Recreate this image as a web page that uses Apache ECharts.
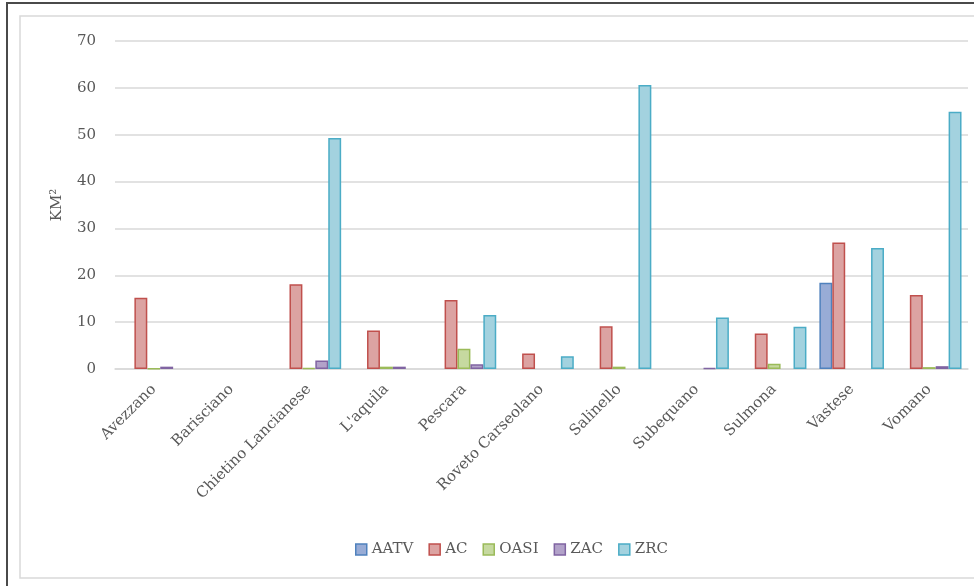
<!DOCTYPE html>
<html>
<head>
<meta charset="utf-8">
<script src="https://cdn.jsdelivr.net/npm/echarts@6/dist/echarts.min.js"></script>
<style>html,body{margin:0;padding:0;background:#fff}#c{width:974px;height:586px}</style>
</head>
<body>
<div id="c"></div>
<script>
const categories = ["Avezzano","Barisciano","Chietino Lancianese","L'aquila","Pescara","Roveto Carseolano","Salinello","Subequano","Sulmona","Vastese","Vomano"];
const seriesNames = ["AATV","AC","OASI","ZAC","ZRC"];
const AATV = [null,null,null,null,null,null,null,null,null,18.4,null];
const AC   = [15.2,null,18.1,8.2,14.7,3.3,9.1,null,7.6,27.0,15.8];
const OASI = [0.1,null,0.2,0.5,4.3,null,0.5,null,1.1,null,0.4];
const ZAC  = [0.5,null,1.8,0.5,1.0,null,null,0.2,null,null,0.6];
const ZRC  = [null,null,49.3,null,11.5,2.7,60.6,11.0,9.0,25.8,54.9];
const yTicks = {min:0, max:70, interval:10};

const values = [AATV, AC, OASI, ZAC, ZRC];
const borders = ["#4F81BD","#C0504D","#9BBB59","#8064A2","#4BACC6"];
const fills = ["#98acd6","#dca3a2","#c6d9a0","#b2a2c9","#a3d2df"];
const font = "DejaVu Serif";
const txt = "#595959";

const chart = echarts.init(document.getElementById('c'));
chart.setOption({
  animation:false,
  textStyle:{fontFamily:font},
  graphic:[
    {type:'rect', shape:{x:7,y:3,width:980,height:600}, style:{fill:null, stroke:'#4a4a4a', lineWidth:2}, silent:true, z:-10},
    {type:'rect', shape:{x:20,y:16,width:970,height:562}, style:{fill:null, stroke:'#d9d9d9', lineWidth:1.5}, silent:true, z:-10}
  ],
  grid:{left:115, right:6, top:41, bottom:217, containLabel:false},
  legend:{
    top:537, left:350, itemWidth:11, itemHeight:11, itemGap:15,
    textStyle:{fontFamily:font, fontSize:15, color:txt},
    data:seriesNames.map((n,i)=>({name:n, icon:'rect', itemStyle:{color:fills[i], borderColor:borders[i], borderWidth:1.5}}))
  },
  xAxis:{
    type:'category', data:categories,
    axisLine:{lineStyle:{color:'#d9d9d9', width:1.5}},
    axisTick:{show:false},
    axisLabel:{rotate:45, fontFamily:font, fontSize:15, color:txt, margin:18, interval:0}
  },
  yAxis:{
    type:'value', min:yTicks.min, max:yTicks.max, interval:yTicks.interval,
    name:'KM²', nameLocation:'middle', nameGap:50, nameRotate:90,
    nameTextStyle:{fontFamily:font, fontSize:15, color:txt},
    axisLine:{show:false}, axisTick:{show:false},
    axisLabel:{fontFamily:font, fontSize:15, color:txt, margin:19},
    splitLine:{lineStyle:{color:'#d9d9d9', width:1.5}}
  },
  series: seriesNames.map((n,i)=>({
    name:n, type:'bar', data:values[i],
    barGap:'0%', barCategoryGap:'16.7%',
    itemStyle:{color:fills[i], borderColor:borders[i], borderWidth:1.5}
  }))
});
</script>
</body>
</html>
